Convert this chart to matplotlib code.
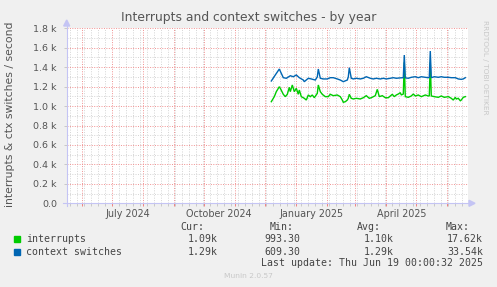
import matplotlib
matplotlib.use("Agg")
import matplotlib.pyplot as plt
import matplotlib.dates as mdates
from matplotlib.ticker import FixedLocator, FuncFormatter
from matplotlib.patches import Rectangle, Polygon
import pandas as pd

# ---------------- data ----------------
ctx_dates = ["2024-12-07", "2024-12-11", "2024-12-15", "2024-12-19", "2024-12-22", "2024-12-26",
             "2024-12-29", "2025-01-01", "2025-01-04", "2025-01-08", "2025-01-09", "2025-01-13",
             "2025-01-16", "2025-01-20", "2025-01-22", "2025-01-23", "2025-01-25", "2025-01-28",
             "2025-02-01", "2025-02-04", "2025-02-07", "2025-02-11", "2025-02-14", "2025-02-17",
             "2025-02-21", "2025-02-22", "2025-02-23", "2025-02-25", "2025-02-27", "2025-03-02",
             "2025-03-06", "2025-03-09", "2025-03-12", "2025-03-16", "2025-03-19", "2025-03-22",
             "2025-03-26", "2025-03-29", "2025-04-01", "2025-04-05", "2025-04-08", "2025-04-11",
             "2025-04-15", "2025-04-18", "2025-04-19", "2025-04-20", "2025-04-23", "2025-04-26",
             "2025-04-30", "2025-05-03", "2025-05-06", "2025-05-10", "2025-05-13", "2025-05-14",
             "2025-05-15", "2025-05-16", "2025-05-19", "2025-05-23", "2025-05-26", "2025-05-29",
             "2025-06-02", "2025-06-05", "2025-06-09", "2025-06-12", "2025-06-15", "2025-06-17",
             "2025-06-19"]
ctx_values = [1258, 1320, 1381, 1292, 1286, 1312,
              1302, 1320, 1292, 1268, 1251, 1286,
              1279, 1268, 1300, 1381, 1286, 1279,
              1279, 1292, 1292, 1279, 1268, 1251,
              1268, 1300, 1395, 1286, 1279, 1286,
              1279, 1286, 1302, 1286, 1279, 1286,
              1279, 1286, 1279, 1286, 1292, 1286,
              1290, 1292, 1525, 1290, 1286, 1296,
              1302, 1292, 1302, 1296, 1292, 1295,
              1566, 1292, 1302, 1296, 1302, 1296,
              1296, 1292, 1292, 1279, 1275, 1279,
              1292]

irq_dates = ["2024-12-07", "2024-12-10", "2024-12-12", "2024-12-15", "2024-12-16", "2024-12-19",
             "2024-12-21", "2024-12-23", "2024-12-25", "2024-12-26", "2024-12-28", "2024-12-30",
             "2025-01-01", "2025-01-03", "2025-01-04", "2025-01-06", "2025-01-09", "2025-01-11",
             "2025-01-13", "2025-01-15", "2025-01-17", "2025-01-19", "2025-01-22", "2025-01-23",
             "2025-01-25", "2025-01-27", "2025-01-30", "2025-02-02", "2025-02-04", "2025-02-07",
             "2025-02-11", "2025-02-14", "2025-02-16", "2025-02-17", "2025-02-19", "2025-02-21",
             "2025-02-22", "2025-02-23", "2025-02-25", "2025-02-27", "2025-03-02", "2025-03-06",
             "2025-03-09", "2025-03-12", "2025-03-15", "2025-03-17", "2025-03-21", "2025-03-23",
             "2025-03-25", "2025-03-28", "2025-03-31", "2025-04-03", "2025-04-07", "2025-04-09",
             "2025-04-11", "2025-04-13", "2025-04-15", "2025-04-16", "2025-04-18", "2025-04-19",
             "2025-04-20", "2025-04-23", "2025-04-26", "2025-04-28", "2025-04-30", "2025-05-03",
             "2025-05-06", "2025-05-10", "2025-05-13", "2025-05-14", "2025-05-15", "2025-05-16",
             "2025-05-19", "2025-05-23", "2025-05-26", "2025-05-29", "2025-06-02", "2025-06-05",
             "2025-06-07", "2025-06-09", "2025-06-10", "2025-06-12", "2025-06-14", "2025-06-15",
             "2025-06-17", "2025-06-19"]
irq_values = [1045, 1097, 1148, 1199, 1183, 1121,
              1097, 1121, 1193, 1148, 1217, 1148,
              1183, 1121, 1165, 1097, 1080, 1062,
              1114, 1097, 1114, 1086, 1131, 1217,
              1148, 1121, 1097, 1097, 1121, 1107,
              1114, 1097, 1062, 1039, 1045, 1062,
              1080, 1121, 1080, 1073, 1080, 1073,
              1086, 1107, 1080, 1086, 1107, 1172,
              1097, 1107, 1086, 1086, 1121, 1097,
              1114, 1124, 1138, 1114, 1124, 1450,
              1097, 1090, 1104, 1124, 1104, 1114,
              1097, 1114, 1104, 1104, 1450, 1104,
              1097, 1090, 1104, 1090, 1097, 1080,
              1062, 1090, 1073, 1080, 1055, 1062,
              1090, 1097]

y_ticks = [0, 200, 400, 600, 800, 1000, 1200, 1400, 1600, 1800]
y_tick_labels = ["0.0", "0.2 k", "0.4 k", "0.6 k", "0.8 k", "1.0 k", "1.2 k", "1.4 k", "1.6 k", "1.8 k"]
x_label_dates = ["2024-07-16", "2024-10-16", "2025-01-16", "2025-04-16"]
x_label_texts = ["July 2024", "October 2024", "January 2025", "April 2025"]

series_names = ["interrupts", "context switches"]
series_colors = ["#00CC00", "#0066B3"]
cur_vals = ["1.09k", "1.29k"]
min_vals = ["993.30", "609.30"]
avg_vals = ["1.10k", "1.29k"]
max_vals = ["17.62k", "33.54k"]

title = "Interrupts and context switches - by year"
ylabel = "interrupts & ctx switches / second"
last_update = "Last update: Thu Jun 19 00:00:32 2025"

x_start = pd.Timestamp("2024-05-16 09:00")
x_end = pd.Timestamp("2025-06-21 10:00")

# ---------------- figure ----------------
W, H = 497, 287
fig = plt.figure(figsize=(W / 100, H / 100), dpi=100, facecolor="#F0F0F0")

def fx(x):
    return x / W

def fy(y):
    return 1 - y / H

ax_l, ax_r, ax_t, ax_b = 66.7, 467.7, 28.3, 203.3
ax = fig.add_axes([fx(ax_l), fy(ax_b), fx(ax_r - ax_l), (ax_b - ax_t) / H])
ax.set_facecolor("white")
for s in ax.spines.values():
    s.set_visible(False)

ax.set_xlim(x_start, x_end)
ax.set_ylim(0, 1800)

# grid
major_x = pd.date_range("2024-06-01", "2025-06-01", freq="MS")
minor_x = pd.date_range("2024-05-20", "2025-06-21", freq="W-MON")
ax.xaxis.set_major_locator(FixedLocator(mdates.date2num(major_x)))
ax.xaxis.set_minor_locator(FixedLocator(mdates.date2num(minor_x)))
ax.yaxis.set_major_locator(FixedLocator(y_ticks))
ax.yaxis.set_minor_locator(FixedLocator([100, 300, 500, 700, 900, 1100, 1300, 1500, 1700]))
ax.xaxis.set_major_formatter(FuncFormatter(lambda v, p: ""))
ax.set_yticklabels(y_tick_labels)

dots = (0, (1, 1.5))
ax.grid(which="minor", axis="both", color="#D4D4D4", linestyle=dots, linewidth=0.7)
ax.grid(which="major", axis="both", color="#F09090", linestyle=dots, linewidth=0.7)
ax.set_axisbelow(True)

ax.tick_params(axis="x", which="major", length=2, width=0.7, color="#F08080", direction="out")
ax.tick_params(axis="x", which="minor", length=2, width=0.7, color="#C8C8C8", direction="out")
ax.tick_params(axis="y", which="major", length=2, width=0.7, color="#C8C8C8", direction="out",
               labelsize=6.8, labelcolor="#555555", pad=5)
ax.tick_params(axis="y", which="minor", length=0)

for d, t in zip(x_label_dates, x_label_texts):
    ax.text(pd.Timestamp(d), -0.06, t, transform=ax.get_xaxis_transform(),
            ha="center", va="center", fontsize=6.9, color="#555555")

# data lines
irq_x = pd.to_datetime(irq_dates)
ctx_x = pd.to_datetime(ctx_dates)
ax.plot(irq_x, irq_values, color=series_colors[0], linewidth=1.0, solid_joinstyle="miter")
ax.plot(ctx_x, ctx_values, color=series_colors[1], linewidth=1.0, solid_joinstyle="miter")

# axes lines with arrows (figure level)
axis_col = "#C4C4F4"
fig.add_artist(plt.Line2D([fx(ax_l), fx(ax_l)], [fy(ax_b + 3), fy(24)], color=axis_col, lw=0.8))
fig.add_artist(plt.Line2D([fx(63), fx(470)], [fy(ax_b), fy(ax_b)], color=axis_col, lw=0.8))
fig.add_artist(Polygon([[fx(ax_l - 3), fy(26)], [fx(ax_l + 3), fy(26)], [fx(ax_l), fy(20)]],
                       closed=True, color=axis_col, transform=fig.transFigure))
fig.add_artist(Polygon([[fx(469), fy(ax_b - 3)], [fx(469), fy(ax_b + 3)], [fx(475), fy(ax_b)]],
                       closed=True, color=axis_col, transform=fig.transFigure))

# texts
fig.text(fx(248.5), fy(18), title, ha="center", va="center", fontsize=8.9, color="#555555")
fig.text(fx(10.5), fy(114), ylabel, ha="center", va="center", rotation=90,
         fontsize=7.8, color="#555555")
fig.text(fx(485), fy(67), "RRDTOOL / TOBI OETIKER", ha="center", va="center", rotation=270,
         fontsize=5.3, color="#C8C8C8")
fig.text(fx(248), fy(276.5), "Munin 2.0.57", ha="center", va="center", fontsize=5.4,
         color="#C8C8C8")

mono = dict(family="DejaVu Sans Mono", fontsize=7.1, color="#444444", va="center")
hdr_y = 226.7
fig.text(fx(204), fy(hdr_y), "Cur:", ha="right", **mono)
fig.text(fx(293.5), fy(hdr_y), "Min:", ha="right", **mono)
fig.text(fx(381), fy(hdr_y), "Avg:", ha="right", **mono)
fig.text(fx(470), fy(hdr_y), "Max:", ha="right", **mono)

row_y = [239.3, 252.0]
for i in range(2):
    y = row_y[i]
    fig.add_artist(Rectangle((fx(14), fy(y + 3)), fx(6), 6 / H, color=series_colors[i],
                             transform=fig.transFigure))
    fig.text(fx(26.5), fy(y), series_names[i], ha="left", **mono)
    fig.text(fx(217.5), fy(y), cur_vals[i], ha="right", **mono)
    fig.text(fx(300), fy(y), min_vals[i], ha="right", **mono)
    fig.text(fx(394), fy(y), avg_vals[i], ha="right", **mono)
    fig.text(fx(483), fy(y), max_vals[i], ha="right", **mono)

fig.text(fx(483), fy(263.5), last_update, ha="right", **mono)

fig.savefig("out.png", dpi=100, facecolor=fig.get_facecolor())
